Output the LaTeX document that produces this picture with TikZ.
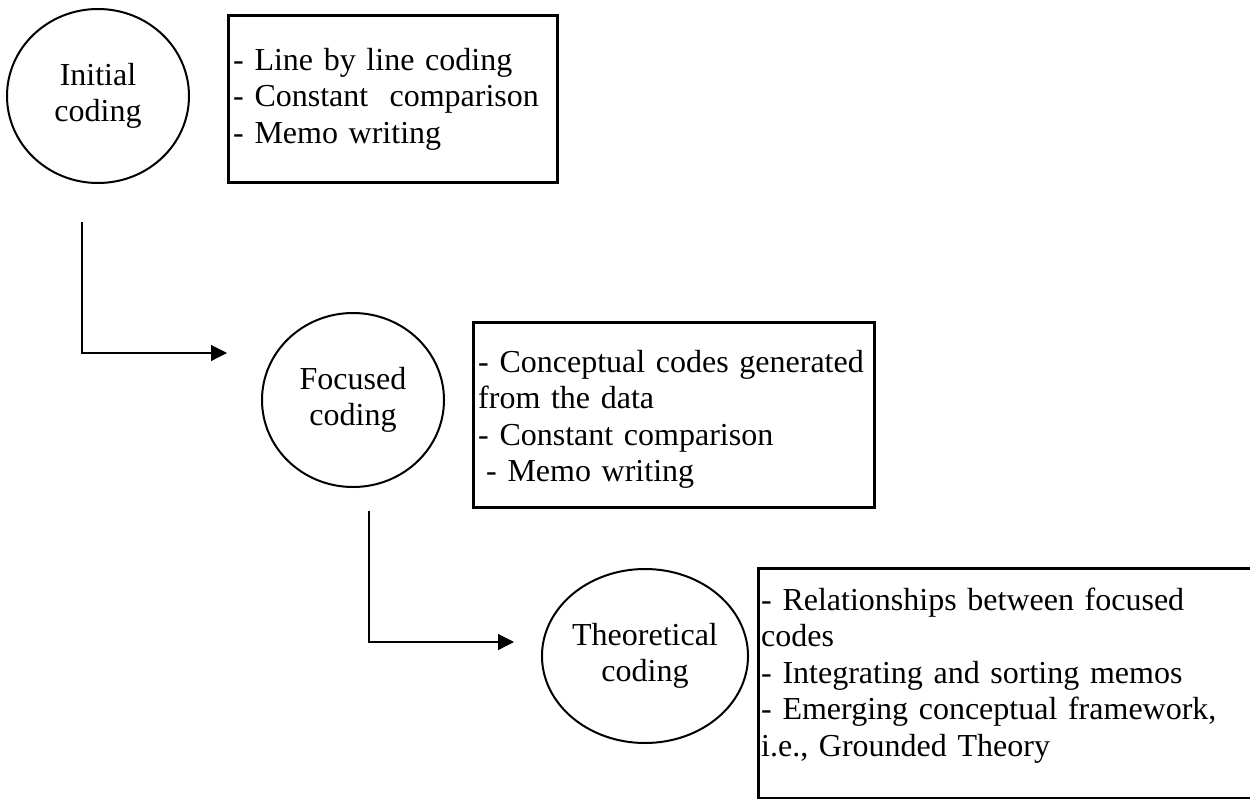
\documentclass[tikz,border=0pt]{standalone}
\usepackage{fontspec}
\setmainfont{Liberation Serif}
\usetikzlibrary{arrows.meta,shapes.geometric}
\begin{document}
\begin{tikzpicture}[x=1pt,y=-1pt,
  every node/.style={font=\fontsize{32}{36.5}\selectfont},
  stage/.style={draw, ellipse, line width=2pt, minimum width=182pt, minimum height=174pt, align=center, inner sep=0pt},
  listbox/.style={draw, line width=2.5pt, anchor=north west, inner sep=0pt},
  listtext/.style={anchor=base west, text width=500pt, align=left, inner sep=0pt},
  flow/.style={line width=1.2pt, -{Triangle[length=16pt,width=16pt]}}]
\useasboundingbox (0,0) rectangle (1250,798);
% stages
\node[stage] (c1) at (98,96) {Initial\\coding};
\node[stage] (c2) at (353,400) {Focused\\coding};
\node[stage] (c3) at (645,656) {Theoretical\\coding};
% boxes
\node[listbox, minimum width=329pt, minimum height=167pt] (b1) at (227,14) {};
\node[listbox, minimum width=401pt, minimum height=185pt] (b2) at (472,321) {};
\node[listbox, minimum width=510pt, minimum height=229.5pt] (b3) at (757,567) {};
\node[listtext] (t1) at (233,70) {- Line by line coding\\- Constant\ \ comparison\\- Memo writing};
\node[listtext] (t2) at (478,372) {- Conceptual codes generated\\from the data\\- Constant comparison\\\hspace*{8pt}- Memo writing};
\node[listtext] (t3) at (761,610) {- Relationships between focused\\codes\\- Integrating and sorting memos\\- Emerging conceptual framework,\\i.e., Grounded Theory};
% connectors
\coordinate (s1) at (82,222);
\coordinate (e1) at (227,353);
\coordinate (s2) at (369,511);
\coordinate (e2) at (514,642);
\draw[flow] (s1) |- (e1);
\draw[flow] (s2) |- (e2);
\end{tikzpicture}
\end{document}
